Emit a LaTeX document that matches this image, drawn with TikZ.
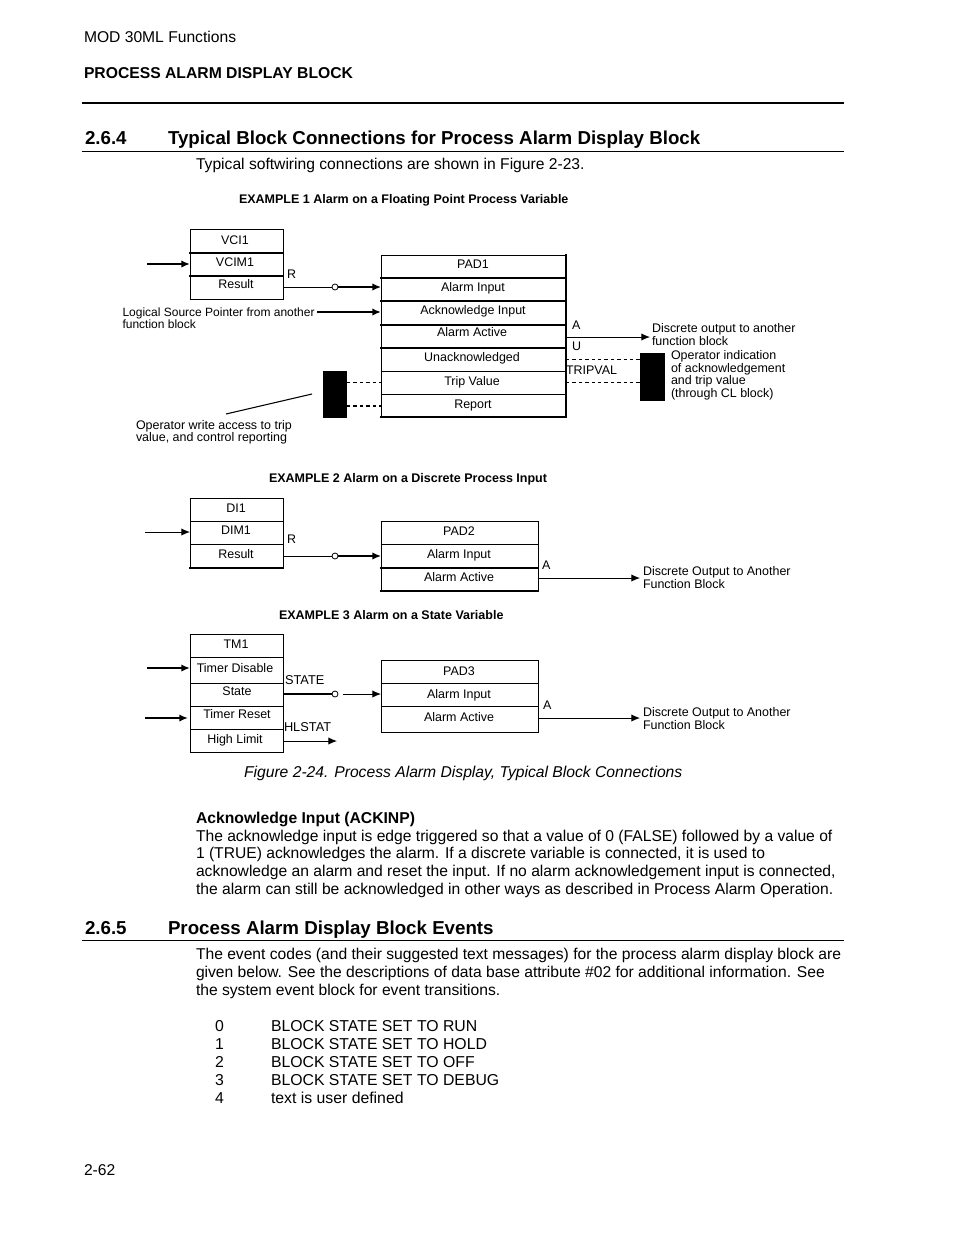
\documentclass[tikz,border=0pt]{standalone}
\usepackage{fontspec}
\setmainfont{Liberation Sans}
\usetikzlibrary{arrows.meta}
\newcommand{\fs}[1]{\fontsize{#1}{#1}\selectfont}
\tikzset{
  x=0.75pt,y=-0.75pt,
  txt/.style={anchor=base west,inner sep=0pt,outer sep=0pt},
  body/.style={txt,font=\fs{11.73pt}},
  listtxt/.style={txt,font=\fs{11.85pt}},
  small/.style={txt,font=\fs{9.35pt}},
  lbl/.style={anchor=base,inner sep=0pt,outer sep=0pt,font=\fs{9.35pt}},
  ex/.style={txt,font=\fs{9.38pt}\bfseries},
  head/.style={txt,font=\fs{14.04pt}\bfseries},
  cell/.style={draw,line width=0.75pt,inner sep=0pt,outer sep=0pt,anchor=north west},
  thk/.style={line width=1.35pt,line cap=rect},
  arr/.style={-{Latex[length=6.5pt,width=5.5pt]},line width=0.75pt},
  arrb/.style={arr,line width=1.4pt},
  arrm/.style={arr,line width=1pt},
  dot/.style={circle,draw,line width=0.6pt,minimum size=4.5pt,inner sep=0pt,outer sep=0pt},
  blk/.style={fill=black,inner sep=0pt,outer sep=0pt,anchor=north west},
  dsh/.style={dash pattern=on 2.6pt off 2.2pt,line width=0.6pt},
  dshb/.style={dash pattern=on 2.6pt off 2.2pt,line width=1.2pt},
}
\begin{document}
\begin{tikzpicture}
\useasboundingbox (0,0) rectangle (954,1235);
\fill[white] (0,0) rectangle (954,1235);
\newcommand{\row}[8]{%
  \node[cell,minimum width={(#4-#2)*0.75pt},minimum height={(#5-#3)*0.75pt}] (#1) at (#2,#3) {};
  \node[lbl] (#1-t) at (#7,#8) {#6};
}
% page header
\node[body] (t1) at (84,42) {MOD 30ML Functions};
\node[txt,font=\fs{11.78pt}\bfseries] (t2) at (84,78) {PROCESS ALARM DISPLAY BLOCK};
\coordinate (r1a) at (82,103); \coordinate (r1b) at (844,103);
\draw[line width=1.5pt] (r1a) -- (r1b);
\node[head] (h1n) at (85,144) {2.6.4};
\node[head] (h1t) at (168,144) {Typical Block Connections for Process Alarm Display Block};
\coordinate (r2a) at (82,151); \coordinate (r2b) at (844,151);
\draw[line width=0.6pt] (r2a) -- (r2b);
\node[body] (t3) at (196,169) {Typical softwiring connections are shown in Figure 2-23.};
\node[ex] (e1) at (239,203) {EXAMPLE 1 Alarm on a Floating Point Process Variable};
% VCI
\row{vci}{190}{229}{283}{253}{VCI1}{235}{244}
\row{vcim}{190}{253}{283}{276}{VCIM1}{235}{266}
\row{vcir}{190}{276}{283}{299}{Result}{236}{288}
\draw[thk] (vcim.north west) -- (vcim.north east);
\draw[thk] (vcir.north west) -- (vcir.north east);
\node[small] (lr) at (287,278) {R};
% PAD1
\row{pa}{381}{255}{566}{278}{PAD1}{473}{268}
\row{pb}{381}{278}{566}{301}{Alarm Input}{473}{291}
\row{pc}{381}{301}{566}{325}{Acknowledge Input}{473}{314}
\row{pd}{381}{325}{566}{348}{Alarm Active}{472}{336}
\row{pe}{381}{348}{566}{371}{Unacknowledged}{472}{361}
\row{pf}{381}{371}{566}{394}{Trip Value}{472}{385}
\row{pg}{381}{394}{566}{417}{Report}{473}{408}
\foreach \c in {pb,pc,pd,pe}{\draw[thk] (\c.north west) -- (\c.north east);}
\draw[thk] (pa.north east) -- (pg.south east) -- (pg.south west);
\coordinate (i1) at (147,264);
\draw[arrb] (i1) -- (vcim.west |- i1);
\node[dot] (o1) at (335,287) {};
\draw[line width=0.7pt] (vcir.east |- o1) -- (o1);
\draw[arrm] (o1) -- (pb.west |- o1);
\node[small,font=\fs{9pt}] (lsp1) at (122.5,316) {Logical Source Pointer from another};
\node[small,font=\fs{9pt}] (lsp2) at (122.5,328) {function block};
\coordinate (lsp) at (317,312);
\draw[arrb] (lsp) -- (pc.west |- lsp);
\node[blk,minimum width=18pt,minimum height=35.25pt] (bl) at (323,371) {};
\draw[dsh] (bl.east |- pf.west) -- (pf.west);
\coordinate (d2) at (347,406);
\draw[dshb] (d2) -- (pg.west |- d2);
\coordinate (wa) at (226,414); \coordinate (wb) at (312,394);
\draw[line width=0.8pt] (wa) -- (wb);
\node[small] (w1) at (136,429) {Operator write access to trip};
\node[small] (w2) at (136,441) {value, and control reporting};
% right of PAD1
\node[small] (la) at (572,329) {A};
\node[small] (lu) at (572,350) {U};
\node[small] (ltv) at (566,374) {TRIPVAL};
\coordinate (ae) at (650,337);
\draw[arr] (pd.east |- ae) -- (ae);
\node[small] (do1) at (652,332) {Discrete output to another};
\node[small] (do2) at (652,345) {function block};
\node[blk,minimum width=18.75pt,minimum height=36pt] (br) at (640,353) {};
\coordinate (u1) at (640,359); \coordinate (u2) at (640,382);
\draw[dsh] (pe.east |- u1) -- (u1);
\draw[dsh] (pf.east |- u2) -- (u2);
\node[small] (op1) at (671,359) {Operator indication};
\node[small] (op2) at (671,372) {of acknowledgement};
\node[small] (op3) at (671,384) {and trip value};
\node[small] (op4) at (671,397) {(through CL block)};
% Example 2
\node[ex] (e2) at (269,482) {EXAMPLE 2 Alarm on a Discrete Process Input};
\row{da}{190}{498}{283}{521}{DI1}{236}{512}
\row{db}{190}{521}{283}{544}{DIM1}{236}{534}
\row{dc}{190}{544}{283}{568}{Result}{236}{558}
\draw[thk] (dc.south west) -- (dc.south east);
\node[small] (lr2) at (287,543) {R};
\row{qa}{381}{521}{538}{544}{PAD2}{459}{535}
\row{qb}{381}{544}{538}{568}{Alarm Input}{459}{558}
\row{qc}{381}{568}{538}{591}{Alarm Active}{459}{581}
\draw[thk] (qc.north west) -- (qc.north east);
\draw[thk] (qc.south west) -- (qc.south east);
\coordinate (i2) at (145,532);
\draw[arr] (i2) -- (db.west |- i2);
\node[dot] (o2) at (335,556) {};
\draw[line width=0.7pt] (dc.east |- o2) -- (o2);
\draw[arrm] (o2) -- (qb.west |- o2);
\coordinate (a2) at (640,578);
\draw[arr] (qc.east |- a2) -- (a2);
\node[small] (la2) at (542,569) {A};
\node[small] (d21) at (643,575) {Discrete Output to Another};
\node[small] (d22) at (643,588) {Function Block};
% Example 3
\node[ex] (e3) at (279,619) {EXAMPLE 3 Alarm on a State Variable};
\row{ta}{190}{634}{283}{657}{TM1}{236}{648}
\row{tb}{190}{657}{283}{683}{Timer Disable}{235}{672}
\row{tc}{190}{683}{283}{706}{State}{237}{695}
\row{td}{190}{706}{283}{729}{Timer Reset}{237}{718}
\row{te}{190}{729}{283}{752}{High Limit}{235}{743}
\row{ra}{381}{660}{538}{683}{PAD3}{459}{675}
\row{rb}{381}{683}{538}{706}{Alarm Input}{459}{698}
\row{rc}{381}{706}{538}{732}{Alarm Active}{459}{721}
\coordinate (i3) at (147,668); \coordinate (i4) at (145,718);
\draw[arrb] (i3) -- (tb.west |- i3);
\draw[arrb] (i4) -- ([xshift=-1.5pt]td.west |- i4);
\node[dot] (o3) at (335,694) {};
\coordinate (o3r) at (343,694);
\draw[line width=1.4pt] (tc.east |- o3) -- (o3);
\draw[arr] (o3r) -- (rb.west |- o3r);
\node[small,font=\fs{9.6pt}] (ls) at (285,684) {STATE};
\node[small,font=\fs{9.6pt}] (lh) at (284,731) {HLSTAT};
\coordinate (hl) at (337,741);
\draw[arr] (te.east |- hl) -- (hl);
\coordinate (a3) at (640,718);
\draw[arr] (rc.east |- a3) -- (a3);
\node[small] (la3) at (543,709) {A};
\node[small] (d31) at (643,716) {Discrete Output to Another};
\node[small] (d32) at (643,729) {Function Block};
\node[txt,font=\fs{11.76pt}\itshape] (cap) at (244,777) {Figure 2-24. Process Alarm Display, Typical Block Connections};
% body text
\node[txt,font=\fs{11.78pt}\bfseries] (b0) at (196,823) {Acknowledge Input (ACKINP)};
\node[body] (b1) at (196,841) {The acknowledge input is edge triggered so that a value of 0 (FALSE) followed by a value of};
\node[body] (b2) at (196,858) {1 (TRUE) acknowledges the alarm. If a discrete variable is connected, it is used to};
\node[body] (b3) at (196,876) {acknowledge an alarm and reset the input. If no alarm acknowledgement input is connected,};
\node[body] (b4) at (196,894) {the alarm can still be acknowledged in other ways as described in Process Alarm Operation.};
\node[head] (h2n) at (85,934) {2.6.5};
\node[head] (h2t) at (168,934) {Process Alarm Display Block Events};
\coordinate (r3a) at (82,940); \coordinate (r3b) at (844,940);
\draw[line width=0.6pt] (r3a) -- (r3b);
\node[body] (c1) at (196,959) {The event codes (and their suggested text messages) for the process alarm display block are};
\node[body] (c2) at (196,977) {given below. See the descriptions of data base attribute \#02 for additional information. See};
\node[body] (c3) at (196,995) {the system event block for event transitions.};
\foreach \n/\y/\s in {0/1031/BLOCK STATE SET TO RUN,1/1049/BLOCK STATE SET TO HOLD,2/1067/BLOCK STATE SET TO OFF,3/1085/BLOCK STATE SET TO DEBUG,4/1103/text is user defined}{
  \node[listtxt] (n\n) at (215,\y) {\n};
  \node[listtxt] (s\n) at (271,\y) {\s};
}
\node[body] (pnum) at (84,1175) {2-62};
\end{tikzpicture}
\end{document}
